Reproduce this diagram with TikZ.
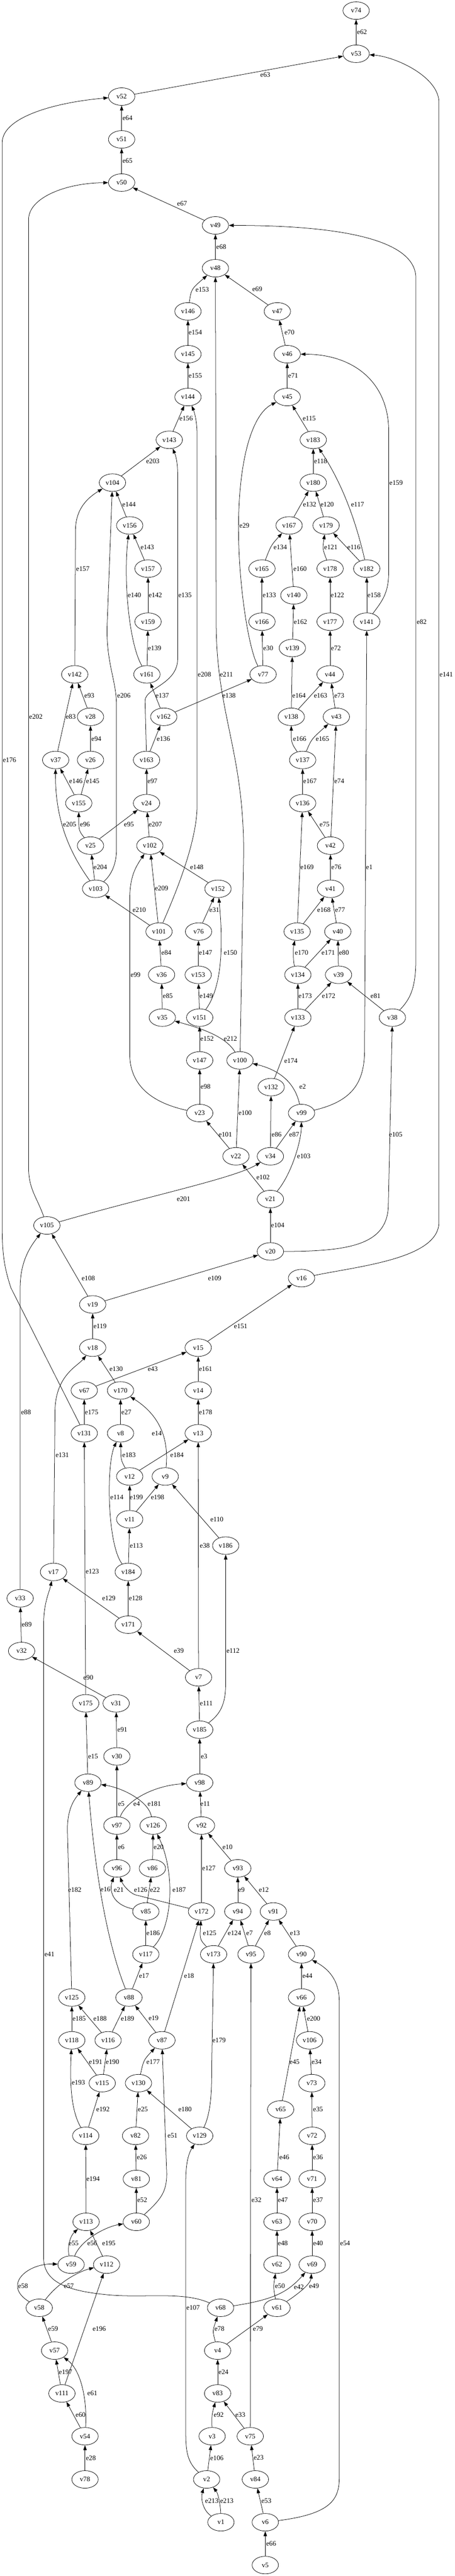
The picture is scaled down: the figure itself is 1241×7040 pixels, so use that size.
\documentclass[tikz,border=0pt]{standalone}
\usepackage{fontspec}
\setmainfont{Liberation Serif}
\usetikzlibrary{arrows.meta,shapes.geometric}

\begin{document}
\begin{tikzpicture}[
    x=0.75pt, y=-0.75pt,
    vtx/.style={draw, ellipse, line width=0.8pt, minimum width=54pt, minimum height=36pt, inner sep=0pt, font=\fontsize{14}{16}\selectfont},
    arrow/.style={-{Triangle[length=10pt, width=7pt]}, line width=0.8pt},
    elab/.style={inner sep=0pt, font=\fontsize{14}{16}\selectfont}
]
    % page
    \fill[white] (0,0) rectangle (1241,7040);
    \useasboundingbox (0,0) rectangle (1241,7040);

    % vertices, top
    \node[vtx] (v74) at (972,29) {v74};
    \node[vtx] (v53) at (972,147) {v53};
    \node[vtx] (v52) at (332,264) {v52};
    \node[vtx] (v51) at (332,381) {v51};
    \node[vtx] (v50) at (332,499) {v50};
    \node[vtx] (v49) at (588,616) {v49};
    \node[vtx] (v48) at (588,733) {v48};
    \node[vtx] (v146) at (513,851) {v146};
    \node[vtx] (v47) at (757,851) {v47};
    \node[vtx] (v145) at (513,968) {v145};
    \node[vtx] (v46) at (784,968) {v46};
    \node[vtx] (v144) at (513,1085) {v144};
    \node[vtx] (v45) at (784,1085) {v45};
    \node[vtx] (v143) at (462,1202) {v143};
    \node[vtx] (v183) at (855,1202) {v183};
    \node[vtx] (v104) at (307,1319) {v104};
    \node[vtx] (v180) at (855,1319) {v180};
    \node[vtx] (v156) at (354,1436) {v156};
    \node[vtx] (v167) at (789,1436) {v167};
    \node[vtx] (v179) at (890,1436) {v179};
    \node[vtx] (v157) at (404,1554) {v157};
    \node[vtx] (v165) at (715,1554) {v165};
    \node[vtx] (v178) at (901,1554) {v178};
    \node[vtx] (v182) at (1001,1554) {v182};
    \node[vtx] (v140) at (802,1627) {v140};
    \node[vtx] (v159) at (404,1699) {v159};
    \node[vtx] (v166) at (715,1699) {v166};
    \node[vtx] (v177) at (901,1699) {v177};
    \node[vtx] (v141) at (1001,1699) {v141};
    \node[vtx] (v139) at (798,1771) {v139};
    \node[vtx] (v142) at (204,1843) {v142};
    \node[vtx] (v161) at (401,1843) {v161};
    \node[vtx] (v77) at (718,1843) {v77};
    \node[vtx] (v44) at (901,1843) {v44};
    \node[vtx] (v28) at (247,1959) {v28};
    \node[vtx] (v162) at (447,1959) {v162};
    \node[vtx] (v138) at (795,1959) {v138};
    \node[vtx] (v43) at (918,1959) {v43};
    \node[vtx] (v37) at (152,2077) {v37};
    \node[vtx] (v26) at (247,2077) {v26};
    \node[vtx] (v163) at (400,2077) {v163};
    \node[vtx] (v137) at (826,2077) {v137};
    \node[vtx] (v155) at (215,2195) {v155};
    \node[vtx] (v24) at (400,2195) {v24};
    \node[vtx] (v136) at (826,2195) {v136};
    \node[vtx] (v25) at (247,2311) {v25};
    \node[vtx] (v102) at (409,2311) {v102};
    \node[vtx] (v42) at (902,2311) {v42};
    \node[vtx] (v103) at (261,2429) {v103};
    \node[vtx] (v152) at (595,2429) {v152};
    \node[vtx] (v41) at (902,2429) {v41};
    \node[vtx] (v101) at (434,2546) {v101};
    \node[vtx] (v76) at (542,2546) {v76};
    \node[vtx] (v135) at (811,2546) {v135};
    \node[vtx] (v40) at (922,2546) {v40};
    \node[vtx] (v36) at (441,2664) {v36};
    \node[vtx] (v153) at (541,2664) {v153};
    \node[vtx] (v134) at (813,2664) {v134};
    \node[vtx] (v39) at (924,2664) {v39};
    \node[vtx] (v35) at (443,2781) {v35};
    \node[vtx] (v151) at (545,2781) {v151};
    \node[vtx] (v133) at (813,2781) {v133};
    \node[vtx] (v38) at (1071,2781) {v38};
    \node[vtx] (v147) at (545,2898) {v147};
    \node[vtx] (v100) at (655,2898) {v100};

    % vertices, middle
    \node[vtx] (v132) at (740,2971) {v132};
    \node[vtx] (v23) at (545,3042) {v23};
    \node[vtx] (v99) at (823,3042) {v99};
    \node[vtx] (v22) at (644,3160) {v22};
    \node[vtx] (v34) at (738,3160) {v34};
    \node[vtx] (v21) at (738,3277) {v21};
    \node[vtx] (v105) at (128,3349) {v105};
    \node[vtx] (v20) at (738,3420) {v20};
    \node[vtx] (v16) at (823,3493) {v16};
    \node[vtx] (v19) at (253,3565) {v19};
    \node[vtx] (v18) at (253,3683) {v18};
    \node[vtx] (v15) at (541,3683) {v15};
    \node[vtx] (v67) at (230,3800) {v67};
    \node[vtx] (v170) at (329,3800) {v170};
    \node[vtx] (v14) at (541,3800) {v14};
    \node[vtx] (v131) at (230,3917) {v131};
    \node[vtx] (v8) at (329,3917) {v8};
    \node[vtx] (v13) at (541,3917) {v13};
    \node[vtx] (v12) at (354,4035) {v12};
    \node[vtx] (v9) at (451,4035) {v9};
    \node[vtx] (v11) at (354,4152) {v11};
    \node[vtx] (v186) at (616,4224) {v186};
    \node[vtx] (v17) at (146,4296) {v17};
    \node[vtx] (v184) at (350,4296) {v184};
    \node[vtx] (v33) at (55,4368) {v33};
    \node[vtx] (v171) at (350,4440) {v171};
    \node[vtx] (v32) at (59,4512) {v32};
    \node[vtx] (v7) at (542,4584) {v7};
    \node[vtx] (v175) at (234,4655) {v175};
    \node[vtx] (v31) at (317,4655) {v31};
    \node[vtx] (v185) at (545,4727) {v185};
    \node[vtx] (v30) at (319,4800) {v30};
    \node[vtx] (v89) at (240,4872) {v89};
    \node[vtx] (v98) at (545,4872) {v98};
    \node[vtx] (v97) at (319,4989) {v97};
    \node[vtx] (v126) at (418,4989) {v126};
    \node[vtx] (v92) at (550,4989) {v92};
    \node[vtx] (v96) at (319,5106) {v96};
    \node[vtx] (v86) at (416,5106) {v86};
    \node[vtx] (v93) at (649,5106) {v93};
    \node[vtx] (v85) at (398,5224) {v85};
    \node[vtx] (v172) at (550,5224) {v172};
    \node[vtx] (v94) at (649,5224) {v94};
    \node[vtx] (v91) at (746,5224) {v91};

    % vertices, bottom
    \node[vtx] (v117) at (398,5341) {v117};
    \node[vtx] (v173) at (583,5341) {v173};
    \node[vtx] (v95) at (685,5341) {v95};
    \node[vtx] (v90) at (823,5341) {v90};
    \node[vtx] (v125) at (196,5459) {v125};
    \node[vtx] (v88) at (352,5459) {v88};
    \node[vtx] (v66) at (823,5459) {v66};
    \node[vtx] (v118) at (196,5576) {v118};
    \node[vtx] (v116) at (295,5576) {v116};
    \node[vtx] (v87) at (442,5576) {v87};
    \node[vtx] (v106) at (845,5576) {v106};
    \node[vtx] (v115) at (279,5693) {v115};
    \node[vtx] (v130) at (378,5693) {v130};
    \node[vtx] (v73) at (851,5693) {v73};
    \node[vtx] (v65) at (766,5765) {v65};
    \node[vtx] (v114) at (234,5837) {v114};
    \node[vtx] (v82) at (370,5837) {v82};
    \node[vtx] (v129) at (545,5837) {v129};
    \node[vtx] (v72) at (852,5837) {v72};
    \node[vtx] (v81) at (372,5955) {v81};
    \node[vtx] (v64) at (756,5955) {v64};
    \node[vtx] (v71) at (852,5955) {v71};
    \node[vtx] (v113) at (235,6072) {v113};
    \node[vtx] (v60) at (372,6072) {v60};
    \node[vtx] (v63) at (756,6072) {v63};
    \node[vtx] (v70) at (852,6072) {v70};
    \node[vtx] (v59) at (194,6189) {v59};
    \node[vtx] (v112) at (291,6189) {v112};
    \node[vtx] (v62) at (756,6189) {v62};
    \node[vtx] (v69) at (852,6189) {v69};
    \node[vtx] (v58) at (107,6307) {v58};
    \node[vtx] (v68) at (602,6307) {v68};
    \node[vtx] (v61) at (756,6307) {v61};
    \node[vtx] (v57) at (149,6424) {v57};
    \node[vtx] (v4) at (594,6424) {v4};
    \node[vtx] (v111) at (169,6541) {v111};
    \node[vtx] (v83) at (594,6541) {v83};
    \node[vtx] (v54) at (232,6658) {v54};
    \node[vtx] (v3) at (579,6658) {v3};
    \node[vtx] (v75) at (683,6658) {v75};
    \node[vtx] (v78) at (232,6776) {v78};
    \node[vtx] (v2) at (564,6776) {v2};
    \node[vtx] (v84) at (697,6776) {v84};
    \node[vtx] (v1) at (603,6893) {v1};
    \node[vtx] (v6) at (724,6893) {v6};
    \node[vtx] (v5) at (724,7010) {v5};

    % connectors, top
    \draw[arrow] (v53) -- (v74) node[elab] (l62) at (988,88) {e62};
    \draw[arrow] (v52) -- (v53) node[elab] (l63) at (724,205) {e63};
    \draw[arrow] (v51) -- (v52) node[elab] (l64) at (348,323) {e64};
    \draw[arrow] (v50) -- (v51) node[elab] (l65) at (348,440) {e65};
    \draw[arrow] (v49) -- (v50) node[elab] (l67) at (497,557) {e67};
    \draw[arrow] (v48) -- (v49) node[elab] (l68) at (604,675) {e68};
    \draw[arrow] (v146) .. controls (522,790) .. (v48) node[elab] (l153) at (552,791) {e153};
    \draw[arrow] (v47) -- (v48) node[elab] (l69) at (702,790) {e69};
    \draw[arrow] (v145) -- (v146) node[elab] (l154) at (533,909) {e154};
    \draw[arrow] (v46) -- (v47) node[elab] (l70) at (790,908) {e70};
    \draw[arrow] (v144) -- (v145) node[elab] (l155) at (533,1027) {e155};
    \draw[arrow] (v45) -- (v46) node[elab] (l71) at (800,1027) {e71};
    \draw[arrow] (v143) -- (v144) node[elab] (l156) at (508,1143) {e156};
    \draw[arrow] (v183) -- (v45) node[elab] (l115) at (844,1143) {e115};
    \draw[arrow] (v104) -- (v143) node[elab] (l203) at (417,1261) {e203};
    \draw[arrow] (v180) -- (v183) node[elab] (l118) at (875,1261) {e118};
    \draw[arrow] (v182) .. controls (975,1440) and (940,1330) .. (v183) node[elab] (l117) at (976,1378) {e117};
    \draw[arrow] (v156) -- (v104) node[elab] (l144) at (352,1378) {e144};
    \draw[arrow] (v167) -- (v180) node[elab] (l132) at (845,1378) {e132};
    \draw[arrow] (v179) -- (v180) node[elab] (l120) at (893,1378) {e120};
    \draw[arrow] (v157) -- (v156) node[elab] (l143) at (402,1496) {e143};
    \draw[arrow] (v165) .. controls (740,1490) .. (v167) node[elab] (l134) at (765,1496) {e134};
    \draw[arrow] (v178) .. controls (880,1500) .. (v179) node[elab] (l121) at (903,1496) {e121};
    \draw[arrow] (v182) -- (v179) node[elab] (l116) at (966,1496) {e116};
    \draw[arrow] (v140) -- (v167) node[elab] (l160) at (819,1554) {e160};
    \draw[arrow] (v159) -- (v157) node[elab] (l142) at (424,1627) {e142};
    \draw[arrow] (v166) -- (v165) node[elab] (l133) at (735,1627) {e133};
    \draw[arrow] (v177) -- (v178) node[elab] (l122) at (921,1627) {e122};
    \draw[arrow] (v141) -- (v182) node[elab] (l158) at (1021,1627) {e158};
    \draw[arrow] (v139) -- (v140) node[elab] (l162) at (820,1699) {e162};
    \draw[arrow] (v161) -- (v159) node[elab] (l139) at (422,1771) {e139};
    \draw[arrow] (v77) -- (v166) node[elab] (l30) at (732,1771) {e30};
    \draw[arrow] (v44) -- (v177) node[elab] (l72) at (917,1771) {e72};
    \draw[arrow] (v28) -- (v142) node[elab] (l93) at (244,1901) {e93};
    \draw[arrow] (v162) -- (v161) node[elab] (l137) at (443,1901) {e137};
    \draw[arrow] (v162) -- (v77) node[elab] (l138) at (625,1901) {e138};
    \draw[arrow] (v138) -- (v139) node[elab] (l164) at (816,1901) {e164};
    \draw[arrow] (v138) -- (v44) node[elab] (l163) at (875,1901) {e163};
    \draw[arrow] (v43) -- (v44) node[elab] (l73) at (926,1901) {e73};
    \draw[arrow] (v37) -- (v142) node[elab] (l83) at (193,1959) {e83};
    \draw[arrow] (v26) -- (v28) node[elab] (l94) at (263,2019) {e94};
    \draw[arrow] (v163) -- (v162) node[elab] (l136) at (446,2019) {e136};
    \draw[arrow] (v137) .. controls (795,2030) .. (v138) node[elab] (l166) at (818,2019) {e166};
    \draw[arrow] (v137) .. controls (850,2020) .. (v43) node[elab] (l165) at (880,2019) {e165};
    \draw[arrow] (v155) -- (v37) node[elab] (l146) at (207,2135) {e146};
    \draw[arrow] (v155) -- (v26) node[elab] (l145) at (253,2135) {e145};
    \draw[arrow] (v24) -- (v163) node[elab] (l97) at (416,2135) {e97};
    \draw[arrow] (v136) -- (v137) node[elab] (l167) at (846,2135) {e167};
    \draw[arrow] (v42) -- (v43) node[elab] (l74) at (926,2135) {e74};
    \draw[arrow] (v25) .. controls (215,2270) .. (v155) node[elab] (l96) at (232,2253) {e96};
    \draw[arrow] (v25) -- (v24) node[elab] (l95) at (352,2253) {e95};
    \draw[arrow] (v102) -- (v24) node[elab] (l207) at (424,2253) {e207};
    \draw[arrow] (v42) -- (v136) node[elab] (l75) at (886,2253) {e75};
    \draw[arrow] (v103) -- (v25) node[elab] (l204) at (274,2370) {e204};
    \draw[arrow] (v152) -- (v102) node[elab] (l148) at (537,2370) {e148};
    \draw[arrow] (v135) -- (v136) node[elab] (l169) at (838,2370) {e169};
    \draw[arrow] (v41) -- (v42) node[elab] (l76) at (918,2370) {e76};
    \draw[arrow] (v101) -- (v102) node[elab] (l209) at (441,2428) {e209};
    \draw[arrow] (v101) -- (v103) node[elab] (l210) at (380,2487) {e210};
    \draw[arrow] (v76) -- (v152) node[elab] (l31) at (585,2487) {e31};
    \draw[arrow] (v135) -- (v41) node[elab] (l168) at (884,2487) {e168};
    \draw[arrow] (v40) -- (v41) node[elab] (l77) at (928,2487) {e77};
    \draw[arrow] (v36) -- (v101) node[elab] (l84) at (454,2604) {e84};
    \draw[arrow] (v153) -- (v76) node[elab] (l147) at (561,2604) {e147};
    \draw[arrow] (v151) .. controls (605,2700) and (610,2590) .. (v152) node[elab] (l150) at (629,2604) {e150};
    \draw[arrow] (v134) .. controls (800,2630) and (800,2590) .. (v135) node[elab] (l170) at (823,2604) {e170};
    \draw[arrow] (v134) -- (v40) node[elab] (l171) at (896,2604) {e171};
    \draw[arrow] (v39) -- (v40) node[elab] (l80) at (939,2604) {e80};
    \draw[arrow] (v35) -- (v36) node[elab] (l85) at (458,2722) {e85};
    \draw[arrow] (v151) -- (v153) node[elab] (l149) at (563,2722) {e149};
    \draw[arrow] (v133) -- (v134) node[elab] (l173) at (833,2722) {e173};
    \draw[arrow] (v133) -- (v39) node[elab] (l172) at (897,2722) {e172};
    \draw[arrow] (v38) -- (v39) node[elab] (l81) at (1025,2722) {e81};
    \draw[arrow] (v147) -- (v151) node[elab] (l152) at (565,2839) {e152};
    \draw[arrow] (v100) .. controls (615,2830) and (540,2808) .. (v35) node[elab] (l212) at (629,2839) {e212};

    % connectors, middle
    \draw[arrow] (v132) -- (v133) node[elab] (l174) at (794,2899) {e174};
    \draw[arrow] (v23) -- (v147) node[elab] (l98) at (561,2970) {e98};
    \draw[arrow] (v99) .. controls (805,2960) and (765,2925) .. (v100) node[elab] (l2) at (826,2970) {e2};
    \draw[arrow] (v22) -- (v100) node[elab] (l100) at (669,3042) {e100};
    \draw[arrow] (v22) -- (v23) node[elab] (l101) at (615,3101) {e101};
    \draw[arrow] (v34) -- (v132) node[elab] (l86) at (755,3101) {e86};
    \draw[arrow] (v34) -- (v99) node[elab] (l87) at (803,3101) {e87};
    \draw[arrow] (v21) .. controls (795,3210) and (822,3120) .. (v99) node[elab] (l103) at (829,3160) {e103};
    \draw[arrow] (v21) -- (v22) node[elab] (l102) at (718,3218) {e102};
    \draw[arrow] (v105) .. controls (400,3270) and (640,3220) .. (v34) node[elab] (l201) at (501,3277) {e201};
    \draw[arrow] (v20) -- (v21) node[elab] (l104) at (758,3349) {e104};
    \draw[arrow] (v19) -- (v105) node[elab] (l108) at (241,3493) {e108};
    \draw[arrow] (v19) -- (v20) node[elab] (l109) at (586,3493) {e109};
    \draw[arrow] (v15) -- (v16) node[elab] (l151) at (657,3624) {e151};
    \draw[arrow] (v18) -- (v19) node[elab] (l119) at (273,3624) {e119};
    \draw[arrow] (v170) -- (v18) node[elab] (l130) at (317,3741) {e130};
    \draw[arrow] (v67) -- (v15) node[elab] (l43) at (417,3741) {e43};
    \draw[arrow] (v14) -- (v15) node[elab] (l161) at (561,3741) {e161};
    \draw[arrow] (v131) -- (v67) node[elab] (l175) at (250,3859) {e175};
    \draw[arrow] (v8) -- (v170) node[elab] (l27) at (345,3859) {e27};
    \draw[arrow] (v13) -- (v14) node[elab] (l178) at (561,3859) {e178};
    \draw[arrow] (v9) .. controls (458,3960) and (455,3880) .. (v170) node[elab] (l14) at (428,3917) {e14};
    \draw[arrow] (v12) .. controls (330,3990) .. (v8) node[elab] (l183) at (352,3976) {e183};
    \draw[arrow] (v12) -- (v13) node[elab] (l184) at (483,3976) {e184};
    \draw[arrow] (v11) -- (v12) node[elab] (l199) at (372,4092) {e199};
    \draw[arrow] (v11) -- (v9) node[elab] (l198) at (430,4092) {e198};
    \draw[arrow] (v186) -- (v9) node[elab] (l110) at (592,4152) {e110};
    \draw[arrow] (v184) -- (v11) node[elab] (l113) at (372,4224) {e113};
    \draw[arrow] (v7) -- (v13) node[elab] (l38) at (559,4224) {e38};
    \draw[arrow] (v175) -- (v131) node[elab] (l123) at (252,4295) {e123};
    \draw[arrow] (v171) -- (v184) node[elab] (l128) at (370,4368) {e128};
    \draw[arrow] (v171) -- (v17) node[elab] (l129) at (297,4368) {e129};
    \draw[arrow] (v32) -- (v33) node[elab] (l89) at (73,4440) {e89};
    \draw[arrow] (v7) -- (v171) node[elab] (l39) at (488,4512) {e39};
    \draw[arrow] (v31) -- (v32) node[elab] (l90) at (241,4584) {e90};
    \draw[arrow] (v185) -- (v7) node[elab] (l111) at (563,4655) {e111};
    \draw[arrow] (v30) -- (v31) node[elab] (l91) at (334,4727) {e91};
    \draw[arrow] (v89) -- (v175) node[elab] (l15) at (254,4800) {e15};
    \draw[arrow] (v98) -- (v185) node[elab] (l3) at (557,4800) {e3};
    \draw[arrow] (v97) -- (v30) node[elab] (l5) at (331,4930) {e5};
    \draw[arrow] (v97) .. controls (345,4920) and (420,4880) .. (v98) node[elab] (l4) at (373,4930) {e4};
    \draw[arrow] (v126) .. controls (405,4920) and (330,4885) .. (v89) node[elab] (l181) at (421,4930) {e181};
    \draw[arrow] (v92) -- (v98) node[elab] (l11) at (560,4930) {e11};
    \draw[arrow] (v96) -- (v97) node[elab] (l6) at (331,5048) {e6};
    \draw[arrow] (v86) -- (v126) node[elab] (l20) at (433,5048) {e20};
    \draw[arrow] (v93) -- (v92) node[elab] (l10) at (621,5048) {e10};
    \draw[arrow] (v172) -- (v92) node[elab] (l127) at (570,5106) {e127};
    \draw[arrow] (v85) .. controls (305,5205) and (298,5165) .. (v96) node[elab] (l21) at (324,5165) {e21};
    \draw[arrow] (v172) -- (368,5178) .. controls (350,5170) and (335,5150) .. (v96) node[elab] (l126) at (384,5165) {e126};
    \draw[arrow] (v85) -- (v86) node[elab] (l22) at (423,5165) {e22};
    \draw[arrow] (v94) -- (v93) node[elab] (l9) at (659,5165) {e9};
    \draw[arrow] (v91) -- (v93) node[elab] (l12) at (720,5165) {e12};

    % connectors, bottom
    \draw[arrow] (v117) -- (v85) node[elab] (l186) at (418,5283) {e186};
    \draw[arrow] (v117) .. controls (470,5270) and (480,5120) .. (v126) node[elab] (l187) at (489,5165) {e187};
    \draw[arrow] (v173) .. controls (545,5300) .. (v172) node[elab] (l125) at (572,5283) {e125};
    \draw[arrow] (v173) -- (v94) node[elab] (l124) at (640,5283) {e124};
    \draw[arrow] (v95) -- (v94) node[elab] (l7) at (681,5283) {e7};
    \draw[arrow] (v95) -- (v91) node[elab] (l8) at (730,5283) {e8};
    \draw[arrow] (v90) -- (v91) node[elab] (l13) at (805,5283) {e13};
    \draw[arrow] (v88) -- (v117) node[elab] (l17) at (393,5400) {e17};
    \draw[arrow] (v88) .. controls (300,5330) and (262,5150) .. (v89) node[elab] (l16) at (288,5164) {e16};
    \draw[arrow] (v87) -- (v172) node[elab] (l18) at (516,5400) {e18};
    \draw[arrow] (v66) -- (v90) node[elab] (l44) at (839,5400) {e44};
    \draw[arrow] (v118) -- (v125) node[elab] (l185) at (216,5516) {e185};
    \draw[arrow] (v116) -- (v125) node[elab] (l188) at (273,5516) {e188};
    \draw[arrow] (v116) -- (v88) node[elab] (l189) at (348,5516) {e189};
    \draw[arrow] (v87) -- (v88) node[elab] (l19) at (419,5516) {e19};
    \draw[arrow] (v106) -- (v66) node[elab] (l200) at (856,5516) {e200};
    \draw[arrow] (v115) -- (v118) node[elab] (l191) at (261,5635) {e191};
    \draw[arrow] (v115) -- (v116) node[elab] (l190) at (307,5635) {e190};
    \draw[arrow] (v130) .. controls (392,5630) .. (v87) node[elab] (l177) at (418,5635) {e177};
    \draw[arrow] (v65) -- (v66) node[elab] (l45) at (804,5635) {e45};
    \draw[arrow] (v73) -- (v106) node[elab] (l34) at (864,5635) {e34};
    \draw[arrow] (v114) .. controls (195,5770) and (190,5700) .. (v118) node[elab] (l193) at (214,5692) {e193};
    \draw[arrow] (v114) -- (v115) node[elab] (l192) at (281,5764) {e192};
    \draw[arrow] (v82) -- (v130) node[elab] (l25) at (390,5764) {e25};
    \draw[arrow] (v129) -- (v130) node[elab] (l180) at (505,5764) {e180};
    \draw[arrow] (v72) -- (v73) node[elab] (l35) at (868,5764) {e35};
    \draw[arrow] (v81) -- (v82) node[elab] (l26) at (387,5895) {e26};
    \draw[arrow] (v64) -- (v65) node[elab] (l46) at (776,5895) {e46};
    \draw[arrow] (v71) -- (v72) node[elab] (l36) at (868,5895) {e36};
    \draw[arrow] (v113) -- (v114) node[elab] (l194) at (254,5955) {e194};
    \draw[arrow] (v60) -- (v81) node[elab] (l52) at (388,6012) {e52};
    \draw[arrow] (v63) -- (v64) node[elab] (l47) at (772,6012) {e47};
    \draw[arrow] (v70) -- (v71) node[elab] (l37) at (868,6012) {e37};
    \draw[arrow] (v59) .. controls (183,6140) and (192,6110) .. (v113) node[elab] (l55) at (201,6131) {e55};
    \draw[arrow] (v59) .. controls (222,6120) and (290,6085) .. (v60) node[elab] (l56) at (252,6131) {e56};
    \draw[arrow] (v112) -- (v113) node[elab] (l195) at (297,6131) {e195};
    \draw[arrow] (v62) -- (v63) node[elab] (l48) at (772,6131) {e48};
    \draw[arrow] (v69) -- (v70) node[elab] (l40) at (868,6131) {e40};
    \draw[arrow] (v58) .. controls (5,6245) and (75,6185) .. (v59) node[elab] (l58) at (63,6248) {e58};
    \draw[arrow] (v58) .. controls (165,6230) and (225,6205) .. (v112) node[elab] (l57) at (188,6248) {e57};
    \draw[arrow] (v68) .. controls (745,6285) and (785,6265) .. (v69) node[elab] (l42) at (816,6250) {e42};
    \draw[arrow] (v61) .. controls (746,6250) .. (v62) node[elab] (l50) at (764,6248) {e50};
    \draw[arrow] (v61) .. controls (820,6265) and (848,6240) .. (v69) node[elab] (l49) at (857,6248) {e49};
    \draw[arrow] (v57) -- (v58) node[elab] (l59) at (145,6364) {e59};
    \draw[arrow] (v111) -- (v112) node[elab] (l196) at (271,6364) {e196};
    \draw[arrow] (v4) .. controls (580,6370) .. (v68) node[elab] (l78) at (599,6364) {e78};
    \draw[arrow] (v4) -- (v61) node[elab] (l79) at (704,6364) {e79};
    \draw[arrow] (v111) -- (v57) node[elab] (l197) at (179,6482) {e197};
    \draw[arrow] (v83) -- (v4) node[elab] (l24) at (610,6482) {e24};
    \draw[arrow] (v54) .. controls (238,6570) and (225,6480) .. (v57) node[elab] (l61) at (252,6541) {e61};
    \draw[arrow] (v54) -- (v111) node[elab] (l60) at (220,6600) {e60};
    \draw[arrow] (v3) .. controls (578,6600) .. (v83) node[elab] (l92) at (597,6600) {e92};
    \draw[arrow] (v75) -- (v83) node[elab] (l33) at (656,6600) {e33};
    \draw[arrow] (v78) -- (v54) node[elab] (l28) at (248,6717) {e28};
    \draw[arrow] (v2) -- (v3) node[elab] (l106) at (592,6717) {e106};
    \draw[arrow] (v84) -- (v75) node[elab] (l23) at (706,6717) {e23};
    \draw[arrow] (v1) .. controls (552,6860) and (548,6825) .. (v2) node[elab] (l213a) at (578,6834) {e213};
    \draw[arrow] (v1) .. controls (602,6850) and (596,6815) .. (v2) node[elab] (l213b) at (619,6834) {e213};
    \draw[arrow] (v6) -- (v84) node[elab] (l53) at (727,6834) {e53};
    \draw[arrow] (v5) -- (v6) node[elab] (l66) at (740,6952) {e66};

    % long connectors
    \draw[arrow] (v131) -- (30,3520) .. controls (10,3460) and (6,3420) .. (6,3350) -- (6,390) .. controls (6,320) and (150,280) .. (v52) node[elab] (l176) at (26,2077) {e176};
    \draw[arrow] (v105) .. controls (100,3270) and (78,3250) .. (78,3190) -- (78,600) .. controls (78,540) and (180,500) .. (v50) node[elab] (l202) at (98,1959) {e202};
    \draw[arrow] (v16) .. controls (980,3460) and (1198,3440) .. (1198,3340) -- (1198,280) .. controls (1198,210) and (1080,155) .. (v53) node[elab] (l141) at (1218,1843) {e141};
    \draw[arrow] (v38) .. controls (1120,2730) and (1135,2700) .. (1135,2620) -- (1135,760) .. controls (1135,660) and (950,616) .. (v49) node[elab] (l82) at (1151,1699) {e82};
    \draw[arrow] (v141) .. controls (1045,1640) and (1061,1620) .. (1061,1560) -- (1061,1180) .. controls (1061,1040) and (960,968) .. (v46) node[elab] (l159) at (1081,1319) {e159};
    \draw[arrow] (v77) .. controls (680,1780) and (650,1600) .. (651,1436) .. controls (652,1250) and (690,1130) .. (v45) node[elab] (l29) at (667,1436) {e29};
    \draw[arrow] (v101) .. controls (480,2440) and (538,2300) .. (538,2200) -- (538,1190) .. controls (538,1150) and (530,1125) .. (v144) node[elab] (l208) at (558,1843) {e208};
    \draw[arrow] (v100) -- (665,2330) .. controls (665,2050) and (590,1950) .. (590,1700) -- (v48) node[elab] (l211) at (618,1843) {e211};
    \draw[arrow] (v163) -- (396,1915) .. controls (396,1880) and (485,1870) .. (485,1800) -- (485,1300) .. controls (485,1250) and (475,1235) .. (v143) node[elab] (l135) at (505,1627) {e135};
    \draw[arrow] (v161) .. controls (352,1760) and (336,1580) .. (v156) node[elab] (l140) at (367,1627) {e140};
    \draw[arrow] (v142) -- (206,1450) .. controls (206,1390) and (240,1360) .. (v104) node[elab] (l157) at (226,1554) {e157};
    \draw[arrow] (v103) .. controls (305,2390) and (318,2360) .. (318,2320) -- (318,1930) .. controls (318,1860) and (292,1820) .. (292,1720) -- (v104) node[elab] (l206) at (338,1901) {e206};
    \draw[arrow] (v103) .. controls (190,2330) and (150,2240) .. (v37) node[elab] (l205) at (190,2253) {e205};
    \draw[arrow] (v23) .. controls (420,3015) and (354,2970) .. (354,2880) -- (354,2460) .. controls (354,2395) and (370,2370) .. (v102) node[elab] (l99) at (370,2664) {e99};
    \draw[arrow] (v99) .. controls (960,3010) and (995,2960) .. (995,2870) -- (v141) node[elab] (l1) at (1008,2370) {e1};
    \draw[arrow] (v20) .. controls (960,3420) and (1060,3400) .. (1060,3290) -- (v38) node[elab] (l105) at (1080,3101) {e105};
    \draw[arrow] (v33) -- (55,3520) .. controls (55,3450) and (80,3410) .. (v105) node[elab] (l88) at (71,3859) {e88};
    \draw[arrow] (v17) -- (150,3860) .. controls (150,3760) and (210,3735) .. (v18) node[elab] (l131) at (170,3976) {e131};
    \draw[arrow] (v184) .. controls (292,4220) and (290,4000) .. (v8) node[elab] (l114) at (319,4092) {e114};
    \draw[arrow] (v185) .. controls (600,4685) and (616,4660) .. (616,4600) -- (v186) node[elab] (l112) at (636,4512) {e112};
    \draw[arrow] (v125) -- (184,5000) .. controls (184,4940) and (205,4915) .. (v89) node[elab] (l182) at (204,5164) {e182};
    \draw[arrow] (v129) .. controls (578,5770) and (578,5700) .. (578,5640) -- (v173) node[elab] (l179) at (598,5576) {e179};
    \draw[arrow] (v6) .. controls (905,6870) and (926,6830) .. (926,6770) -- (926,5470) .. controls (926,5410) and (895,5380) .. (v90) node[elab] (l54) at (942,6131) {e54};
    \draw[arrow] (v60) .. controls (440,6010) and (455,5990) .. (455,5940) -- (v87) node[elab] (l51) at (471,5837) {e51};
    \draw[arrow] (v2) .. controls (512,6730) and (507,6700) .. (507,6650) -- (507,5960) .. controls (507,5910) and (515,5885) .. (v129) node[elab] (l107) at (527,6307) {e107};
    \draw[arrow] (v75) -- (v95) node[elab] (l32) at (700,6012) {e32};
    \draw[arrow] (v68) .. controls (500,6262) and (400,6280) .. (300,6272) .. controls (190,6262) and (119,6240) .. (119,6170) -- (119,4440) .. controls (119,4380) and (135,4350) .. (v17) node[elab] (l41) at (135,5341) {e41};
\end{tikzpicture}
\end{document}
